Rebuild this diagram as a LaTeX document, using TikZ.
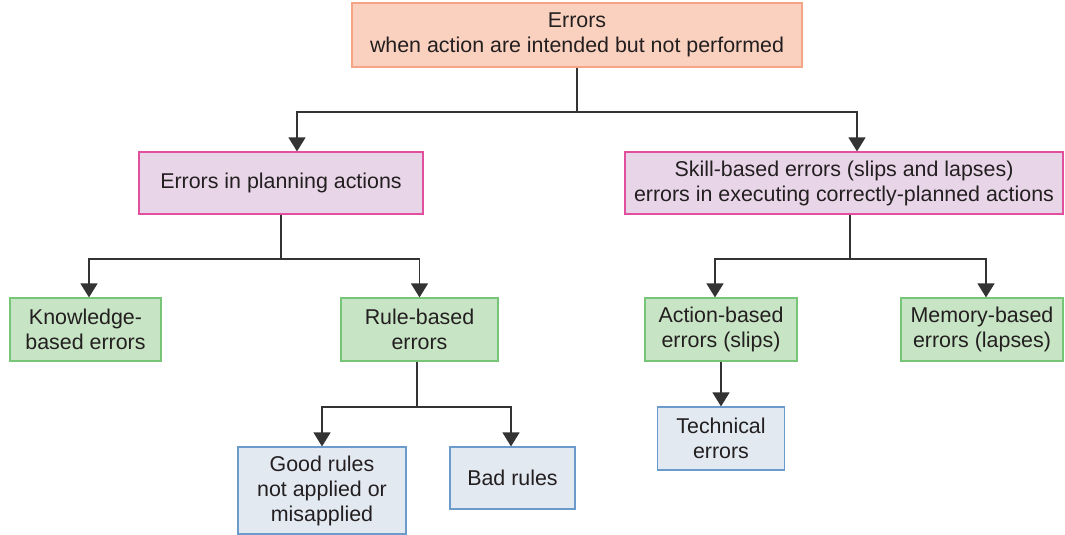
\documentclass[tikz,border=0pt]{standalone}
\usepackage{fontspec}
\setmainfont{Liberation Sans}
\usetikzlibrary{arrows.meta}
\definecolor{txt}{HTML}{231F20}
\definecolor{linegray}{HTML}{333333}
\definecolor{peachfill}{HTML}{FAD1BF}
\definecolor{peachline}{HTML}{F5A585}
\definecolor{lilacfill}{HTML}{E8D6E8}
\definecolor{lilacline}{HTML}{E0509F}
\definecolor{greenfill}{HTML}{C7E4C4}
\definecolor{greenline}{HTML}{77C577}
\definecolor{bluefill}{HTML}{E3E9F1}
\definecolor{blueline}{HTML}{6A9BCB}

\begin{document}
\begin{tikzpicture}[x=1pt, y=-1pt,
	box/.style={draw, line width=1.2pt, align=center, inner sep=0pt, text=txt, font=\fontsize{21.4}{25}\selectfont},
	topbox/.style={box, fill=peachfill, draw=peachline},
	kindbox/.style={box, fill=lilacfill, draw=lilacline},
	typebox/.style={box, fill=greenfill, draw=greenline},
	leafbox/.style={box, fill=bluefill, draw=blueline},
	link/.style={draw=linegray, line width=1.4pt},
	arr/.style={link, -{Triangle[width=17pt, length=14pt]}}]
	\useasboundingbox (0, 0) rectangle (1065, 535);

	% boxes
	\node[topbox, minimum width=450pt, minimum height=64pt] (errors) at (577, 35) {Errors\\when action are intended but not performed};
	\node[kindbox, minimum width=284pt, minimum height=62pt] (planning) at (281, 183) {Errors in planning actions};
	\node[kindbox, minimum width=438pt, minimum height=62pt] (skill) at (844, 183) {Skill-based errors (slips and lapses)\\errors in executing correctly-planned actions};
	\node[typebox, minimum width=151pt, minimum height=63pt] (knowledge) at (85.5, 329.5) {Knowledge-\\based errors};
	\node[typebox, minimum width=157pt, minimum height=63pt] (rule) at (419.5, 329.5) {Rule-based\\errors};
	\node[typebox, minimum width=152pt, minimum height=63pt] (action) at (721, 329.5) {Action-based\\errors (slips)};
	\node[typebox, minimum width=162pt, minimum height=63pt] (memory) at (982, 329.5) {Memory-based\\errors (lapses)};
	\node[leafbox, minimum width=168pt, minimum height=87pt] (good) at (322, 490.5) {Good rules\\not applied or\\misapplied};
	\node[leafbox, minimum width=125pt, minimum height=62pt] (bad) at (512.5, 478) {Bad rules};
	\node[leafbox, minimum width=127pt, minimum height=63pt] (technical) at (721, 438.5) {Technical\\errors};

	% branch points
	\coordinate (j0) at (577, 112);
	\coordinate (j1) at (281, 259);
	\coordinate (j2) at (850, 259);
	\coordinate (j3) at (417, 407);

	% connectors
	\draw[link] (errors.south) -- (j0);
	\draw[arr] (j0) -| ([xshift=16pt]planning.north);
	\draw[arr] (j0) -| ([xshift=13pt]skill.north);
	\draw[link] (planning.south) -- (j1);
	\draw[arr] (j1) -| ([xshift=3.5pt]knowledge.north);
	\draw[arr] (j1) -| (rule.north);
	\draw[link] ([xshift=6pt]skill.south) -- (j2);
	\draw[arr] (j2) -| ([xshift=-6pt]action.north);
	\draw[arr] (j2) -| ([xshift=4pt]memory.north);
	\draw[link] ([xshift=-2.5pt]rule.south) -- (j3);
	\draw[arr] (j3) -| (good.north);
	\draw[arr] (j3) -| ([xshift=-1.5pt]bad.north);
	\draw[arr] (action.south) -- (technical.north);
\end{tikzpicture}
\end{document}
